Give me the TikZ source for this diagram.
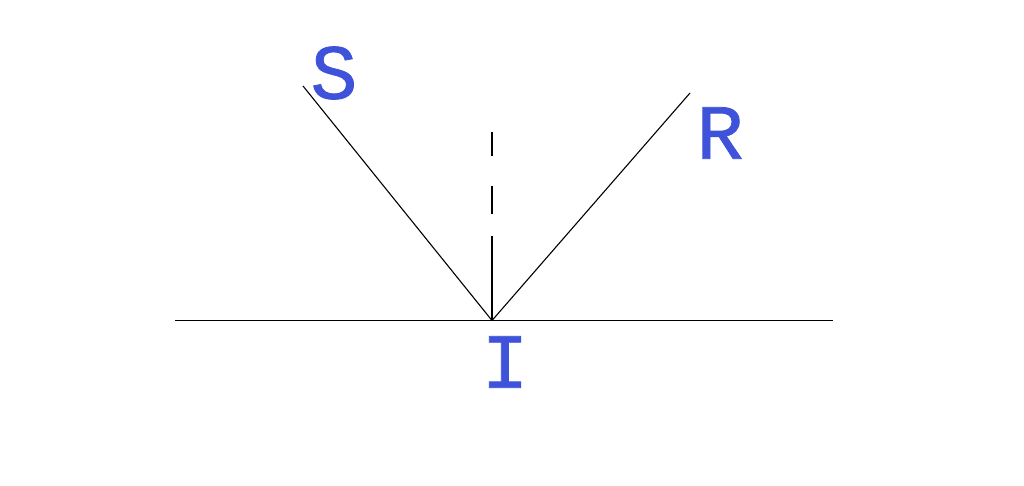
\documentclass[tikz,border=0pt]{standalone}
\usepackage{fontspec}
\newfontfamily\handfont{Liberation Mono}[FakeBold=1]
\definecolor{penblue}{RGB}{62,82,218}
\tikzset{
  ray/.style={black, line width=1.1pt},
  surface/.style={black, line width=1.3pt},
  normalline/.style={black, line width=1.5pt, dash pattern=on 24pt off 30pt on 28pt off 22pt on 100pt},
  label/.style={penblue, inner sep=0pt, font=\handfont\fontsize{78}{78}\selectfont}
}
\begin{document}
\begin{tikzpicture}[x=1pt,y=-1pt]
\useasboundingbox (0,0) rectangle (1024,486);
\coordinate (L) at (175,320.5);
\coordinate (Rt) at (833,320.5);
\coordinate (I) at (492,320.5);
\coordinate (Sa) at (303,86);
\coordinate (Ra) at (690,93);
\coordinate (N) at (492,132);
\draw[surface] (L) -- (Rt);
\draw[ray] (Sa) -- (I);
\draw[ray] (I) -- (Ra);
\draw[normalline] (N) -- (I);
\node[label] (s) at (334,73) {S};
\node[label] (r) at (720,133) {R};
\node[label] (i) at (505,362) {I};
\end{tikzpicture}
\end{document}
